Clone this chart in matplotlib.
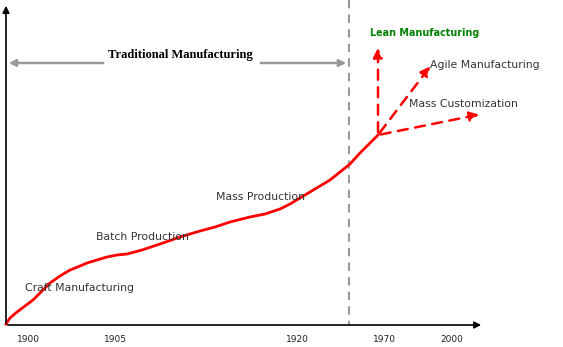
import matplotlib.pyplot as plt
import numpy as np

# evolution curve (position along timeline, level)
curve_x = [6, 10, 17, 25, 33, 42, 50, 60, 70, 80, 87, 97, 107, 117, 127, 142, 160, 180,
           200, 215, 230, 250, 265, 280, 290, 300, 310, 320, 330, 340, 350, 360, 370, 378]
curve_y = [324, 318, 312, 306, 300, 291, 283, 276, 270, 266, 263, 260, 257, 255, 254, 250,
           244, 237, 231, 227, 222, 217, 214, 209, 204, 198, 192, 186, 180, 172, 164, 153, 143, 135]

tick_pos = [28, 115, 297, 384, 452]
tick_labels = ['1900', '1905', '1920', '1970', '2000']

stage_labels = ['Craft Manufacturing', 'Batch Production', 'Mass Production']
stage_x = [25, 96, 216]
stage_y = [288, 237, 197]

future_labels = ['Lean Manufacturing', 'Agile Manufacturing', 'Mass Customization']
future_tip_x = [378, 432, 482]
future_tip_y = [45, 64, 114]
future_text_x = [370, 430, 409]
future_text_y = [33, 65, 104]
future_colors = ['#008000', '#333333', '#333333']

origin = (378, 135)
split_x = 349

fig = plt.figure(figsize=(5.63, 3.47), dpi=100)
ax = fig.add_axes([0, 0, 1, 1])
ax.set_xlim(0, 563)
ax.set_ylim(347, 0)
ax.axis('off')

# axes with arrowheads
ax.annotate('', xy=(6, 3), xytext=(6, 326),
            arrowprops=dict(arrowstyle='-|>', color='black', lw=1.2, mutation_scale=10))
ax.annotate('', xy=(484, 325), xytext=(5, 325),
            arrowprops=dict(arrowstyle='-|>', color='black', lw=1.2, mutation_scale=10))

for p, lab in zip(tick_pos, tick_labels):
    ax.text(p, 339, lab, ha='center', va='center', fontsize=6.5, color='#222222')

# divider
ax.plot([split_x, split_x], [0, 325], color='#999999', lw=1.5, ls=(0, (4, 3)))

# traditional manufacturing span
ax.annotate('', xy=(6, 63), xytext=(106, 63),
            arrowprops=dict(arrowstyle='-|>', color='#999999', lw=1.8, mutation_scale=10))
ax.annotate('', xy=(split_x, 63), xytext=(258, 63),
            arrowprops=dict(arrowstyle='-|>', color='#999999', lw=1.8, mutation_scale=10))
ax.text(180, 55, 'Traditional Manufacturing', ha='center', va='center',
        fontsize=9, fontweight='bold', family='Liberation Serif')

ax.plot(curve_x, curve_y, color='red', lw=2)

for lab, x, y in zip(stage_labels, stage_x, stage_y):
    ax.text(x, y, lab, ha='left', va='center', fontsize=7.8, color='#333333')

for lab, tx, ty, lx, ly, c in zip(future_labels, future_tip_x, future_tip_y,
                                   future_text_x, future_text_y, future_colors):
    ax.annotate('', xy=(tx, ty), xytext=origin,
                arrowprops=dict(arrowstyle='-|>', color='red', lw=1.8, ls=(0, (4, 3)),
                                mutation_scale=14))
    lean = c == '#008000'
    ax.text(lx, ly, lab, ha='left', va='center', fontsize=6.9 if lean else 7.8, color=c,
            fontweight='bold' if lean else 'normal')

fig.savefig('out.png', dpi=100)
